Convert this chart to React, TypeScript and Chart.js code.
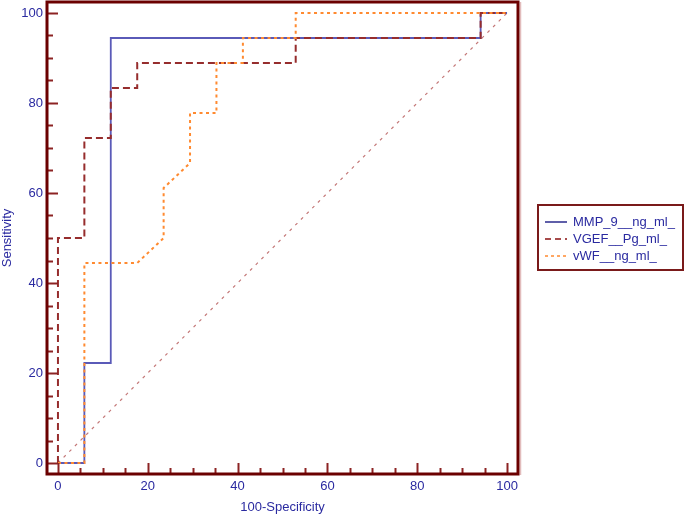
import React, { useEffect, useRef } from "react";
import { Chart, registerables } from "chart.js";

Chart.register(...registerables);

const seriesNames = ["MMP_9__ng_ml_", "VGEF__Pg_ml_", "vWF__ng_ml_"];

const mmpX = [0, 5.88, 5.88, 11.76, 11.76, 94.12, 94.12, 100];
const mmpY = [0, 0, 22.22, 22.22, 94.44, 94.44, 100, 100];

const vgefX = [0, 0, 5.88, 5.88, 11.76, 11.76, 17.65, 17.65, 52.94, 52.94, 94.12, 94.12, 100];
const vgefY = [0, 50, 50, 72.22, 72.22, 83.33, 83.33, 88.89, 88.89, 94.44, 94.44, 100, 100];

const vwfX = [0, 5.88, 5.88, 17.65, 23.53, 23.53, 29.41, 29.41, 35.29, 35.29, 41.18, 41.18, 52.94, 52.94, 100];
const vwfY = [0, 0, 44.44, 44.44, 50, 61.11, 66.67, 77.78, 77.78, 88.89, 88.89, 94.44, 94.44, 100, 100];

const diagX = [0, 100];
const diagY = [0, 100];

const majorTicks = [0, 20, 40, 60, 80, 100];
const minorTicks = [5, 10, 15, 25, 30, 35, 45, 50, 55, 65, 70, 75, 85, 90, 95];

const xTitle = "100-Specificity";
const yTitle = "Sensitivity";

const AX_MIN = -2.44;
const AX_MAX = 102.44;

const TEXT = "#2a2aa0";
const FRAME = "#6b0000";
const TICK = "#8c2323";
const FONT = "'Liberation Sans', Arial, sans-serif";

const pts = (xs: number[], ys: number[]) => xs.map((x, i) => ({ x, y: ys[i] }));

const colors = ["#5a5ab8", "#962d2d", "#ff8a30"];
const legendColors = ["#2a2a8c", "#8b1010", "#ff8a30"];
const dashes: number[][] = [[], [7, 4], [3, 3.5]];

const framePlugin = {
  id: "framePlugin",
  afterDraw(chart: any) {
    const { ctx, chartArea } = chart;
    const { left, top, right, bottom } = chartArea;
    const xs = chart.scales.x;
    const ys = chart.scales.y;
    ctx.save();
    // pale shadow on the right
    ctx.strokeStyle = "#e2bcbc";
    ctx.lineWidth = 1.5;
    ctx.beginPath();
    ctx.moveTo(right + 2.5, top);
    ctx.lineTo(right + 2.5, bottom + 1);
    ctx.stroke();
    // ticks
    ctx.strokeStyle = TICK;
    ctx.lineWidth = 2;
    const drawX = (v: number, len: number) => {
      const px = Math.round(xs.getPixelForValue(v)) + 0.5;
      ctx.beginPath();
      ctx.moveTo(px, bottom);
      ctx.lineTo(px, bottom - len);
      ctx.stroke();
    };
    const drawY = (v: number, len: number) => {
      const py = Math.round(ys.getPixelForValue(v)) + 0.5;
      ctx.beginPath();
      ctx.moveTo(left, py);
      ctx.lineTo(left + len, py);
      ctx.stroke();
    };
    majorTicks.forEach((v) => { drawX(v, 11); drawY(v, 11); });
    minorTicks.forEach((v) => { drawX(v, 6); drawY(v, 6); });
    // frame
    ctx.strokeStyle = FRAME;
    ctx.lineWidth = 3;
    ctx.strokeRect(left, top, right - left, bottom - top);
    // legend box
    const bx = 538, by = 205, bw = 145, bh = 65;
    ctx.strokeStyle = "#7a1a1a";
    ctx.lineWidth = 2;
    ctx.strokeRect(bx, by, bw, bh);
    ctx.font = `13px ${FONT}`;
    ctx.textBaseline = "middle";
    ctx.textAlign = "left";
    seriesNames.forEach((name, i) => {
      const y = 222 + i * 17;
      ctx.strokeStyle = legendColors[i];
      ctx.lineWidth = 1.5;
      ctx.setLineDash(dashes[i].length ? (i === 1 ? [6, 4] : [3, 3]) : []);
      ctx.beginPath();
      ctx.moveTo(545, y);
      ctx.lineTo(567, y);
      ctx.stroke();
      ctx.setLineDash([]);
      ctx.fillStyle = TEXT;
      ctx.fillText(name, 573, y);
    });
    ctx.restore();
  },
};

export default function App() {
  const ref = useRef<HTMLCanvasElement | null>(null);

  useEffect(() => {
    document.body.style.margin = "0";
    if (!ref.current) return;
    const tickFont = { family: FONT, size: 13 };
    const chart = new Chart(ref.current, {
      type: "scatter",
      data: {
        datasets: [
          {
            label: "diag",
            data: pts(diagX, diagY),
            showLine: true,
            borderColor: "#c47878",
            borderWidth: 1.2,
            borderDash: [3, 5],
            pointRadius: 0,
            order: 4,
          },
          {
            label: seriesNames[0],
            data: pts(mmpX, mmpY),
            showLine: true,
            borderColor: colors[0],
            borderWidth: 1.8,
            pointRadius: 0,
            order: 3,
          },
          {
            label: seriesNames[1],
            data: pts(vgefX, vgefY),
            showLine: true,
            borderColor: colors[1],
            borderWidth: 2,
            borderDash: dashes[1],
            pointRadius: 0,
            order: 2,
          },
          {
            label: seriesNames[2],
            data: pts(vwfX, vwfY),
            showLine: true,
            borderColor: colors[2],
            borderWidth: 2,
            borderDash: dashes[2],
            pointRadius: 0,
            order: 1,
          },
        ],
      },
      options: {
        animation: false,
        responsive: false,
        events: [],
        layout: { padding: { left: 0, top: 2, right: 167, bottom: 0 } },
        plugins: { legend: { display: false }, tooltip: { enabled: false } },
        scales: {
          x: {
            type: "linear",
            min: AX_MIN,
            max: AX_MAX,
            grid: { display: false, drawTicks: false },
            border: { display: false },
            afterBuildTicks: (s: any) => { s.ticks = majorTicks.map((v) => ({ value: v })); },
            afterFit: (s: any) => { s.height = 41; s.paddingLeft = 0; s.paddingRight = 0; },
            ticks: { color: TEXT, font: tickFont, padding: 5, maxRotation: 0, autoSkip: false },
            title: { display: true, text: xTitle, color: TEXT, font: tickFont, padding: { top: 0, bottom: 0 } },
          },
          y: {
            type: "linear",
            min: AX_MIN,
            max: AX_MAX,
            grid: { display: false, drawTicks: false },
            border: { display: false },
            afterBuildTicks: (s: any) => { s.ticks = majorTicks.map((v) => ({ value: v })); },
            afterFit: (s: any) => { s.width = 47; s.paddingTop = 0; s.paddingBottom = 0; },
            ticks: { color: TEXT, font: tickFont, padding: 4, autoSkip: false },
            title: { display: true, text: yTitle, color: TEXT, font: tickFont, padding: { top: 0, bottom: 0 } },
          },
        },
      },
      plugins: [framePlugin],
    } as any);
    return () => chart.destroy();
  }, []);

  return (
    <div style={{ position: "absolute", left: 0, top: 0, width: 685, height: 515, background: "#fff" }}>
      <canvas ref={ref} width={685} height={515} style={{ width: 685, height: 515, display: "block" }} />
    </div>
  );
}
